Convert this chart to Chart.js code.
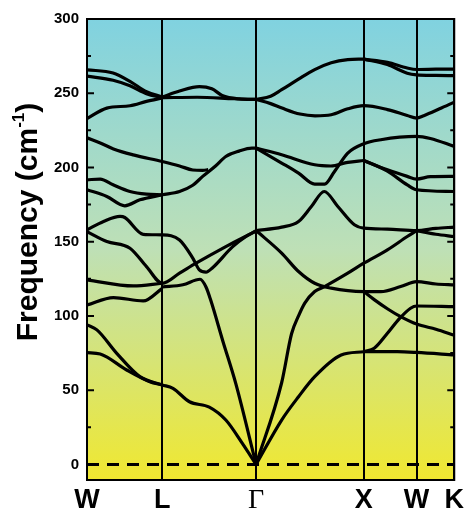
<!DOCTYPE html>
<html>
<head>
<meta charset="utf-8">
<script src="https://cdn.jsdelivr.net/npm/chart.js@4.4.1/dist/chart.umd.min.js"></script>
<style>
  html, body { margin: 0; padding: 0; background: #fff; }
  #wrap { width: 468px; height: 513px; }
</style>
</head>
<body>
<div id="wrap"><canvas id="bands"></canvas></div>
<script>
// high-symmetry points along the path (fraction of path length)
const kLabels = ["W", "L", "Γ", "X", "W", "K"];
const kPoints = [0, 0.205, 0.4604, 0.7536, 0.8975, 1];

const yTicks = [0, 50, 100, 150, 200, 250, 300];
const yMinorTicks = [25, 75, 125, 175, 225, 275];

// phonon branches, [k, frequency cm-1]
const bandTop1 = [[0,265.8],[0.071,263.6],[0.117,258],[0.162,251],[0.205,247.5]];
const bandTop2 = [[0,261.6],[0.071,258.7],[0.117,255],[0.162,249.7],[0.205,247]];
const bandRise233 = [[0,233],[0.054,240],[0.117,241.6],[0.162,244.5],[0.205,246.8]];
const bandBumpLG = [[0.205,247.5],[0.252,251.5],[0.306,254.5],[0.34,253],[0.368,248.5],[0.414,246.2],[0.4604,245.8]];
const bandFlatLG = [[0.205,247],[0.30,247.3],[0.40,246.3],[0.4604,245.8]];
const bandGX273 = [[0.4604,245.8],[0.50,248],[0.53,252.4],[0.576,259.5],[0.62,265.9],[0.665,270.5],[0.71,272.6],[0.7536,273]];
const bandXK266 = [[0.7536,273],[0.818,270.8],[0.872,267],[0.8975,266],[0.95,266.2],[1,266.3]];
const bandXK262 = [[0.7536,273],[0.818,269.3],[0.872,263.5],[0.8975,262.4],[0.95,262],[1,261.8]];
const bandGK236 = [[0.4604,245.8],[0.50,243],[0.531,240],[0.58,236],[0.621,234.8],[0.665,235.5],[0.71,239.5],[0.7536,241.6],[0.818,239],[0.872,235],[0.8975,233.3],[0.917,234.9],[0.96,239.5],[1,244]];
const band220 = [[0,220],[0.036,216.5],[0.072,212.5],[0.126,208.5],[0.205,204],[0.252,201],[0.288,198.3],[0.315,198],[0.33,198.5]];
const bandLG181 = [[0.205,181.6],[0.252,183.8],[0.288,188],[0.315,194],[0.35,201],[0.378,207.4],[0.414,211],[0.449,213],[0.4604,213]];
const bandGX205 = [[0.4604,213],[0.53,208.6],[0.62,201.8],[0.664,201],[0.71,203.4],[0.7536,204.7]];
const bandXK194 = [[0.7536,204.7],[0.818,198.4],[0.872,194],[0.8975,192.2],[0.935,193.8],[1,194]];
const bandXK184 = [[0.7536,204.7],[0.818,197.5],[0.872,188.3],[0.8975,185],[1,183.8]];
const bandGK216 = [[0.4604,213],[0.53,203],[0.576,196.2],[0.62,188.8],[0.647,188.8],[0.674,197.3],[0.71,209.7],[0.7536,216],[0.80,218.7],[0.8975,220.9],[0.935,219.5],[1,214.2]];
const band192 = [[0,191.7],[0.036,192.2],[0.071,188.3],[0.117,183.8],[0.162,182],[0.205,181.6]];
const band185 = [[0,185],[0.054,180.5],[0.103,174.2],[0.144,178.2],[0.205,181.6]];
const band157a = [[0,158],[0.045,163.6],[0.09,167],[0.103,166.3],[0.153,155],[0.205,154.6],[0.252,151.2],[0.288,139],[0.306,131],[0.324,129.5],[0.342,132.5],[0.396,146.5],[0.43,153],[0.4604,157.3]];
const band157b = [[0,156.8],[0.054,150.1],[0.117,145.6],[0.162,133.2],[0.205,122],[0.252,128.8],[0.297,135.5],[0.378,146.7],[0.449,155.8],[0.4604,157.3]];
const band124 = [[0,124.3],[0.126,120.2],[0.205,122]];
const band107 = [[0,107.4],[0.072,112.4],[0.153,110.1],[0.205,118.6]];
const bandLGacoustic = [[0.205,119.5],[0.261,121],[0.308,124.7],[0.324,119.5],[0.337,110.5],[0.37,83],[0.405,54.6],[0.4604,0]];
const band94 = [[0,94],[0.027,90.6],[0.081,74.8],[0.144,59.1],[0.205,53.5]];
const band75 = [[0,75.3],[0.036,74.4],[0.108,63.6],[0.171,55.7],[0.205,53.5]];
const bandLG54 = [[0.205,53.5],[0.234,51.2],[0.279,42.2],[0.333,38.6],[0.378,29.9],[0.423,14.2],[0.4604,0]];
const bandGW157 = [[0.4604,0],[0.53,55],[0.557,88],[0.576,100],[0.593,108.6],[0.62,116.4],[0.647,119.8],[0.71,128.8],[0.7536,135.5],[0.818,144.5],[0.872,153.5],[0.8975,157.5]];
const bandGK123 = [[0.4604,157.5],[0.53,142.3],[0.576,129.9],[0.62,122],[0.665,118.7],[0.7536,116.4],[0.80,116.4],[0.854,119.8],[0.8975,123.1],[0.95,121.5],[1,120.9]];
const bandXK87 = [[0.7536,116.4],[0.782,111],[0.82,104.5],[0.854,99.5],[0.8975,94.5],[0.95,91],[1,87]];
const bandXK107 = [[0.7536,75.9],[0.782,78.2],[0.818,88.3],[0.85,98],[0.881,105.2],[0.8975,106.7],[1,106.3]];
const bandXK74 = [[0.7536,75.9],[0.845,75.9],[0.8975,75.4],[1,73.7]];
const bandGX76 = [[0.4604,0],[0.53,29.9],[0.576,45.6],[0.62,59.1],[0.692,73.7],[0.7536,75.9]];
const bandGK160 = [[0.4604,157.5],[0.53,159.8],[0.576,163.6],[0.611,173.7],[0.646,183.8],[0.683,173.7],[0.728,161.4],[0.7536,159.1],[0.818,158.5],[0.8975,157.5],[0.95,159],[1,159.8]];
const bandWK153 = [[0.8975,157.5],[0.95,155],[1,153.5]];

const allBands = [
  bandTop1, bandTop2, bandRise233, bandBumpLG, bandFlatLG, bandGX273, bandXK266, bandXK262,
  bandGK236, band220, bandLG181, bandGX205, bandXK194, bandXK184, bandGK216, band192, band185,
  band157a, band157b, band124, band107, bandLGacoustic, band94, band75, bandLG54,
  bandGW157, bandGK123, bandXK87, bandXK107, bandXK74, bandGX76, bandGK160, bandWK153
];
const zeroLine = [[0, 0], [1, 0]];

const datasets = allBands.map(b => ({
  data: b.map(p => ({ x: p[0], y: p[1] })),
  borderColor: "#000",
  borderWidth: 3.2,
  pointRadius: 0,
  cubicInterpolationMode: "monotone",
  showLine: true,
  fill: false
}));
datasets.push({
  data: zeroLine.map(p => ({ x: p[0], y: p[1] })),
  borderColor: "#000",
  borderWidth: 3,
  borderDash: [12, 8],
  pointRadius: 0,
  showLine: true
});

// gradient background, frame, inward ticks, axis title
const plotDecor = {
  id: "plotDecor",
  beforeDraw(chart) {
    const { ctx, chartArea: a } = chart;
    const g = ctx.createLinearGradient(0, a.top, 0, a.bottom);
    g.addColorStop(0, "rgb(128,210,224)");
    g.addColorStop(0.5, "rgb(190,224,182)");
    g.addColorStop(1, "rgb(240,232,48)");
    ctx.save();
    ctx.fillStyle = g;
    ctx.fillRect(a.left, a.top, a.right - a.left, a.bottom - a.top);
    ctx.restore();
  },
  afterDraw(chart) {
    const { ctx, chartArea: a } = chart;
    const ys = chart.scales.y;
    ctx.save();
    ctx.strokeStyle = "#000";
    ctx.lineWidth = 2;
    ctx.strokeRect(a.left, a.top, a.right - a.left, a.bottom - a.top);
    const marks = yTicks.map(v => [v, 7]).concat(yMinorTicks.map(v => [v, 4]));
    marks.forEach(([v, len]) => {
      const py = ys.getPixelForValue(v);
      ctx.beginPath();
      ctx.moveTo(a.left, py); ctx.lineTo(a.left + len, py);
      ctx.moveTo(a.right, py); ctx.lineTo(a.right - len, py);
      ctx.stroke();
    });
    // y title with superscript
    ctx.translate(29, 222);
    ctx.rotate(-Math.PI / 2);
    ctx.fillStyle = "#000";
    ctx.textBaseline = "middle";
    const main = "Frequency (cm";
    const sup = "-1";
    ctx.font = "bold 30px 'Liberation Sans', Arial, sans-serif";
    const w1 = ctx.measureText(main).width;
    const w3 = ctx.measureText(")").width;
    ctx.font = "bold 17px 'Liberation Sans', Arial, sans-serif";
    const w2 = ctx.measureText(sup).width;
    let x0 = -(w1 + w2 + w3) / 2;
    ctx.font = "bold 30px 'Liberation Sans', Arial, sans-serif";
    ctx.fillText(main, x0, 0);
    ctx.font = "bold 17px 'Liberation Sans', Arial, sans-serif";
    ctx.fillText(sup, x0 + w1, -10);
    ctx.font = "bold 30px 'Liberation Sans', Arial, sans-serif";
    ctx.fillText(")", x0 + w1 + w2, 0);
    ctx.restore();
  }
};

new Chart(document.getElementById("bands"), {
  type: "scatter",
  data: { datasets },
  options: {
    responsive: true,
    maintainAspectRatio: false,
    animation: false,
    layout: { padding: { top: 19, right: 11, left: 0, bottom: 0 } },
    plugins: { legend: { display: false }, tooltip: { enabled: false } },
    scales: {
      x: {
        type: "linear",
        min: 0,
        max: 1,
        afterBuildTicks: s => { s.ticks = kPoints.map(v => ({ value: v })); },
        afterFit: s => { s.height = 33; },
        ticks: {
          autoSkip: false,
          maxRotation: 0,
          padding: 4,
          color: "#000",
          callback: (v, i) => kLabels[i],
          font: c => (c.tick && c.tick.label === "Γ")
            ? { family: "'Liberation Serif', 'DejaVu Serif', serif", size: 28, weight: "normal" }
            : { family: "'Liberation Sans', Arial, sans-serif", size: 27, weight: "bold" }
        },
        grid: { color: "#000", lineWidth: 2, drawTicks: false },
        border: { display: false }
      },
      y: {
        min: -10.5,
        max: 300,
        afterBuildTicks: s => { s.ticks = yTicks.map(v => ({ value: v })); },
        afterFit: s => { s.width = 87; },
        ticks: {
          padding: 8,
          color: "#000",
          font: { family: "'Liberation Sans', Arial, sans-serif", size: 15, weight: "bold" }
        },
        grid: { display: false, drawTicks: false },
        border: { display: false }
      }
    }
  },
  plugins: [plotDecor]
});
</script>
</body>
</html>
